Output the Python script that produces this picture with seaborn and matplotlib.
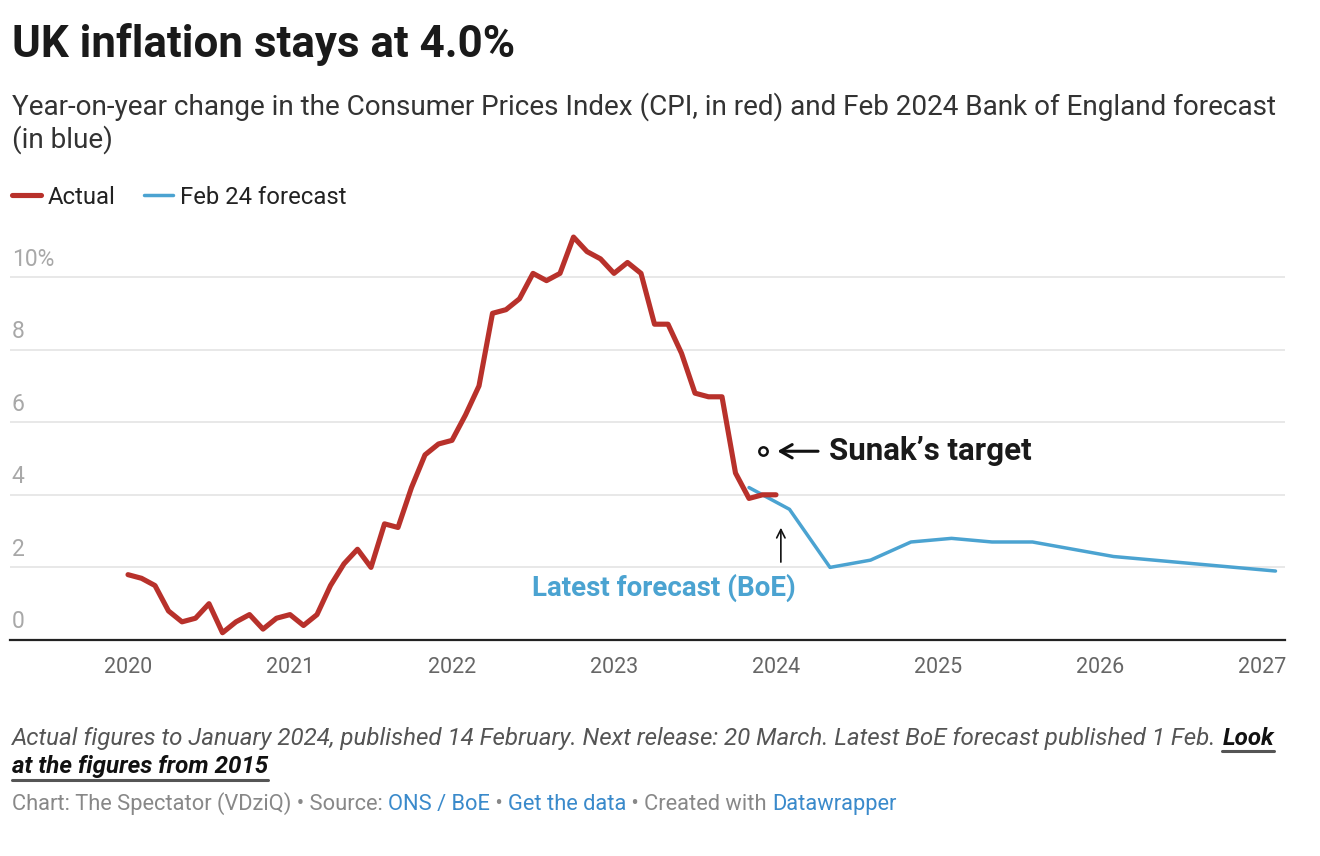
import matplotlib
matplotlib.use('Agg')
import matplotlib.pyplot as plt
import seaborn as sns
import pandas as pd
from matplotlib.transforms import blended_transform_factory
from matplotlib.lines import Line2D

# ---------------- data ----------------
actual_months = pd.period_range('2020-01', '2024-01', freq='M').strftime('%Y-%m').tolist()
actual_values = [1.8, 1.7, 1.5, 0.8, 0.5, 0.6, 1.0, 0.2, 0.5, 0.7, 0.3, 0.6,
                 0.7, 0.4, 0.7, 1.5, 2.1, 2.5, 2.0, 3.2, 3.1, 4.2, 5.1, 5.4,
                 5.5, 6.2, 7.0, 9.0, 9.1, 9.4, 10.1, 9.9, 10.1, 11.1, 10.7, 10.5,
                 10.1, 10.4, 10.1, 8.7, 8.7, 7.9, 6.8, 6.7, 6.7, 4.6, 3.9, 4.0,
                 4.0]
forecast_months = ['2023-11', '2024-02', '2024-05', '2024-08', '2024-11', '2025-02', '2025-05',
                   '2025-08', '2025-11', '2026-02', '2026-05', '2026-08', '2026-11', '2027-02']
forecast_values = [4.2, 3.6, 2.0, 2.2, 2.7, 2.8, 2.7, 2.7, 2.5, 2.3, 2.2, 2.1, 2.0, 1.9]
target_month = '2023-12'
target_value = 5.2
year_ticks = [2020, 2021, 2022, 2023, 2024, 2025, 2026, 2027]
y_ticks = [0, 2, 4, 6, 8, 10]
y_tick_labels = ['0', '2', '4', '6', '8', '10%']


def dec_year(m):
    y, mo = m.split('-')
    return int(y) + (int(mo) - 1) / 12


df_a = pd.DataFrame({'x': [dec_year(m) for m in actual_months], 'y': actual_values, 'series': 'Actual'})
df_f = pd.DataFrame({'x': [dec_year(m) for m in forecast_months], 'y': forecast_values, 'series': 'Feb 24 forecast'})

RED = '#b8312b'
BLUE = '#4ba3d1'
LINK = '#3a8acb'

sns.set_theme(style='white')
plt.rcParams['font.family'] = ['Roboto', 'DejaVu Sans']

W, H = 1320, 856
fig = plt.figure(figsize=(W / 100, H / 100), dpi=100)


def fx(px):
    return px / W


def fy(py):
    return 1 - py / H


PX_PER_UNIT = 36.3
ax = fig.add_axes([fx(10), fy(640), fx(1285) - fx(10), (640 - 230) / H])
sns.lineplot(data=df_f, x='x', y='y', color=BLUE, lw=2.5, ax=ax, zorder=3)
sns.lineplot(data=df_a, x='x', y='y', color=RED, lw=3.7, ax=ax, zorder=4,
             solid_capstyle='round', solid_joinstyle='round')
ax.set_xlim(2020 + (10 - 128) / 162, 2020 + (1285 - 128) / 162)
ax.set_ylim(0, (640 - 230) / PX_PER_UNIT)
ax.set_xlabel('')
ax.set_ylabel('')
for s in ['top', 'left', 'right']:
    ax.spines[s].set_visible(False)
ax.spines['bottom'].set_color('#222222')
ax.spines['bottom'].set_linewidth(1.6)
ax.set_yticks(y_ticks)
ax.set_yticklabels([])
ax.tick_params(axis='y', length=0)
ax.grid(axis='y', color='#e4e4e4', lw=1.2)
ax.set_xticks(year_ticks)
ax.set_xticklabels([str(y) for y in year_ticks])
ax.tick_params(axis='x', length=0, pad=12, labelsize=15.5, labelcolor='#666666')

trans = blended_transform_factory(ax.transAxes, ax.transData)
for v, lab in zip(y_ticks, y_tick_labels):
    ax.annotate(lab, xy=(0.0015, v), xycoords=trans, xytext=(0, 18), textcoords='offset pixels',
                ha='left', va='center', fontsize=16.5, color='#a8a8a8')

# Sunak target
tx = dec_year(target_month)
ax.plot([tx], [target_value], marker='o', ms=6, mfc='white', mec='#111111', mew=1.8, zorder=5)
ax.annotate('', xy=(tx + 0.075, target_value), xytext=(tx + 0.36, target_value),
            arrowprops=dict(arrowstyle='->, head_length=0.7, head_width=0.4', color='#111111', lw=2.2))
ax.text(tx + 0.41, target_value, 'Sunak\u2019s target', fontsize=22.5, fontweight='bold',
        color='#1a1a1a', ha='left', va='center')

# Latest forecast
ax.annotate('', xy=(2024.03, 3.17), xytext=(2024.03, 2.07),
            arrowprops=dict(arrowstyle='->, head_length=0.5, head_width=0.25', color='#111111', lw=1.2))
ax.text(2023.31, 1.43, 'Latest forecast (BoE)', fontsize=20, fontweight='bold',
        color=BLUE, ha='center', va='center')

# legend
handles = [Line2D([], [], color=RED, lw=3.7, solid_capstyle='round'),
           Line2D([], [], color=BLUE, lw=2.5, solid_capstyle='round')]
fig.legend(handles, ['Actual', 'Feb 24 forecast'], loc='center left',
           bbox_to_anchor=(fx(12), fy(197)), ncol=2, frameon=False, fontsize=17.2,
           handlelength=1.2, handletextpad=0.3, columnspacing=1.2, borderpad=0,
           borderaxespad=0, labelcolor='#222222')

fig.canvas.draw()
R = fig.canvas.get_renderer()


def fit_text(x, y, s, width, **kw):
    t = fig.text(fx(x), fy(y), s, va='baseline', ha='left', **kw)
    fs = t.get_fontsize()
    w = t.get_window_extent(renderer=R).width
    t.set_fontsize(fs * width / w)
    return t


title = fit_text(12, 57, 'UK inflation stays at 4.0%', 501, fontsize=28, fontweight='bold', color='#1a1a1a')
sub1 = fit_text(12, 115, 'Year-on-year change in the Consumer Prices Index (CPI, in red) and Feb 2024 Bank of England forecast',
                1268, fontsize=18, color='#333333')
sub_fs = sub1.get_fontsize()
fig.text(fx(12), fy(148), '(in blue)', va='baseline', ha='left', fontsize=sub_fs, color='#333333')

# footer notes
note = 'Actual figures to January 2024, published 14 February. Next release: 20 March. Latest BoE forecast published 1 Feb.'
t1 = fit_text(12, 745, note, 1205, fontsize=17, fontstyle='italic', color='#555555')
nfs = t1.get_fontsize()
bb = t1.get_window_extent(renderer=R)
look = fig.text(bb.x1 / W + fx(6), fy(745), 'Look', va='baseline', ha='left', fontsize=nfs,
                fontstyle='italic', fontweight='bold', color='#111111')
lb = look.get_window_extent(renderer=R)
fig.add_artist(Line2D([lb.x0 / W, lb.x1 / W], [fy(751), fy(751)], transform=fig.transFigure,
                      color='#555555', lw=2.2))
l2 = fig.text(fx(12), fy(773), 'at the figures from 2015', va='baseline', ha='left', fontsize=nfs,
              fontstyle='italic', fontweight='bold', color='#111111')
l2b = l2.get_window_extent(renderer=R)
fig.add_artist(Line2D([l2b.x0 / W, l2b.x1 / W], [fy(780), fy(780)], transform=fig.transFigure,
                      color='#555555', lw=2.2))

# source line
parts = [('Chart: The Spectator (VDziQ) \u2022 Source: ', '#888888'), ('ONS / BoE', LINK),
         (' \u2022 ', '#888888'), ('Get the data', LINK), (' \u2022 Created with ', '#888888'),
         ('Datawrapper', LINK)]
full = ''.join(p[0] for p in parts)
probe = fit_text(12, 810, full, 890, fontsize=15, color='#888888')
sfs = probe.get_fontsize()
probe.remove()
x = 12
for s, c in parts:
    t = fig.text(fx(x), fy(810), s, va='baseline', ha='left', fontsize=sfs, color=c)
    bbx = t.get_window_extent(renderer=R)
    x = bbx.x1

fig.savefig('out.png', dpi=100, facecolor='white')
